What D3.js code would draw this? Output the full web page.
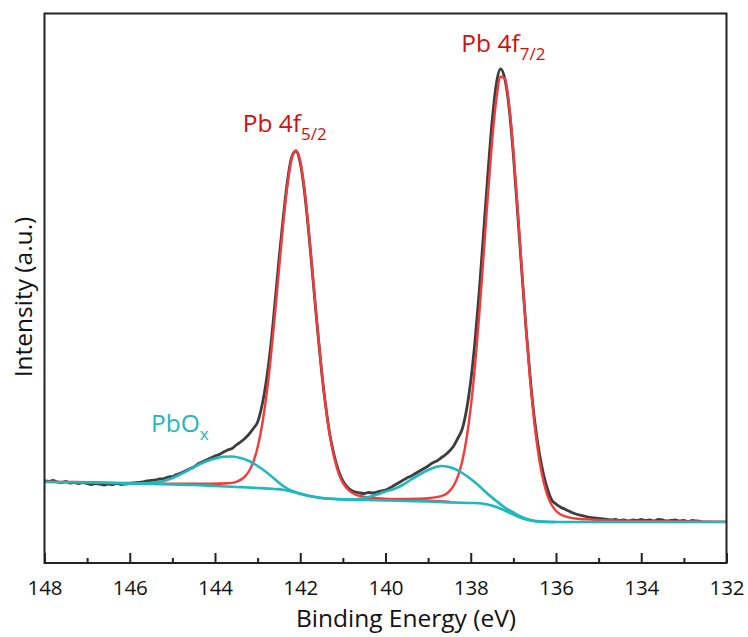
<!DOCTYPE html>
<html><head><meta charset="utf-8">
<script src="https://cdn.jsdelivr.net/npm/d3@7"></script>
<style>body{margin:0;background:#fff}svg{display:block}text{font-family:"Open Sans",sans-serif}</style>
</head><body><svg id="c" width="748" height="637"></svg>
<script>
// ---------- data (binding energy in eV, intensity in a.u.) ----------
const majorTicks = [148,146,144,142,140,138,136,134,132];
const minorTicks = [147,145,143,141,139,137,135,133];

const rawData = [
[148.0,82],[147.9,81.5],[147.8,82.5],[147.7,81],[147.6,80.5],[147.5,81.5],[147.4,80],[147.3,80.5],[147.2,79.5],[147.1,80.5],
[147.0,79.5],[146.9,78.5],[146.8,79.5],[146.7,79],[146.6,78],[146.5,79],[146.4,78.5],[146.3,79.5],[146.2,78.5],[146.1,79],
[146.0,79.5],[145.9,80],[145.8,80.5],[145.7,81],[145.6,82],[145.5,82.5],[145.4,83],[145.3,84],[145.2,84.5],[145.1,86],
[145.0,86.5],[144.9,88.5],[144.8,90],[144.7,92],[144.6,94],[144.5,96],[144.4,99],[144.3,101],[144.2,103],[144.1,105],
[144.0,107],[143.9,108.5],[143.8,111],[143.7,113],[143.6,114.5],[143.5,118],[143.4,121],[143.3,124.5],[143.2,129],[143.1,134.5],
[143.0,141],[142.9,157],[142.8,181],[142.7,214],[142.6,257],[142.5,303],[142.4,345],[142.3,382],[142.2,406],[142.1,412],
[142.0,400],[141.9,371],[141.8,330],[141.7,283],[141.6,236],[141.5,192],[141.4,156],[141.3,127],[141.2,107],[141.1,92],
[141.0,82],[140.9,76],[140.8,72.5],[140.7,71],[140.6,70],[140.5,69.5],[140.4,70.5],[140.3,70],[140.2,71],[140.1,72],
[140.0,73],[139.9,75],[139.8,77.5],[139.7,80],[139.6,82.5],[139.5,85],[139.4,87],[139.3,89.5],[139.2,92],[139.1,94.5],
[139.0,97],[138.9,100],[138.8,102],[138.7,105],[138.6,108],[138.5,112],[138.4,117],[138.3,125],[138.2,134],[138.1,153],
[138.0,182],[137.9,222],[137.8,272],[137.7,330],[137.6,388],[137.5,441],[137.4,479],[137.3,494],[137.2,484],[137.1,455],
[137.0,408],[136.9,350],[136.8,290],[136.7,233],[136.6,183],[136.5,142],[136.4,112],[136.3,90],[136.2,74],[136.1,63],
[136.0,59],[135.9,56],[135.8,54],[135.7,52],[135.6,50],[135.5,48.5],[135.4,47.5],[135.3,46.5],[135.2,45.5],[135.1,45],
[135.0,44.5],[134.9,44],[134.8,43.5],[134.7,43],[134.6,43.5],[134.5,42.5],[134.4,43],[134.3,42],[134.2,43],[134.1,42.5],
[134.0,43.5],[133.9,42.5],[133.8,43],[133.7,42],[133.6,43.5],[133.5,43],[133.4,42],[133.3,42.5],[133.2,43],[133.1,42],
[133.0,42.5],[132.9,41.5],[132.8,42.5],[132.7,42],[132.6,41.5]
];

const fitPb52 = [
[148,81.3],[147.5,81],[147,80.8],[146.5,80.3],[146,80],[145.5,79.6],[145,79.3],[144.6,79.3],[144.1,79.2],[143.7,79.7],
[143.5,81.2],[143.3,86.4],[143.2,92],[143.1,101.2],[143.0,115.8],[142.9,136.8],[142.8,165.3],[142.7,202],[142.6,245.3],
[142.5,292.7],[142.4,338.9],[142.3,378],[142.2,404.4],[142.1,412.5],[142.0,401.9],[141.9,373.5],[141.8,332.4],[141.7,285.1],
[141.6,236.8],[141.5,192.8],[141.4,155.3],[141.3,126.2],[141.2,104.8],[141.1,89.7],[141.0,80.1],[140.9,74.2],[140.7,68.4],
[140.5,66.3],[140.1,64.6],[139.6,63.4],[139.0,62.3],[138.5,61.3]
];

const fitPb72 = [
[140.5,64.0],[140.0,63.9],[139.5,64.1],[139.0,64.8],[138.8,65.8],[138.7,66.9],[138.6,68.5],[138.5,71.8],[138.4,77.5],[138.3,86.9],
[138.2,101.8],[138.1,124.2],[138.0,155.7],[137.9,197.4],[137.8,248.7],[137.7,306.7],[137.6,366.5],[137.5,421.2],[137.4,463.6],
[137.3,486.3],[137.2,484.5],[137.1,458.1],[137.0,412.5],[136.9,354.5],[136.8,292.5],[136.7,232.5],[136.6,180.1],[136.5,137.5],
[136.4,105.4],[136.3,82.7],[136.2,67.5],[136.1,58],[136.0,52.2],[135.9,48.7],[135.8,46.9],[135.7,45.7],[135.5,44.3],
[135.25,43.6],[135.0,43],[134.5,42.4],[134.0,42.1],[133.0,41.6],[132.0,41.4]
];

const background = [
[148,81],[147.5,80.8],[147,80.5],[146.5,80],[146,79.5],[145.5,79],[145,78.5],[144.5,78],[144,77],[143.5,76],
[143,75],[142.6,74],[142.4,73.3],[142.2,71.5],[142.0,69],[141.8,67],[141.6,65.5],[141.4,64.5],[141.2,64],[141,63.5],
[140.5,63],[140,62.5],[139.5,62],[139,61.5],[138.5,60.6],[138,60],[137.8,59.7],[137.6,58.5],[137.4,56],[137.25,53.5],
[137.1,50.5],[136.9,46.5],[136.7,43.5],[136.5,41.8],[136.3,41.2],[136,41],[135,41],[134,41],[133,41],[132,41]
];

const fitPbOx1 = [
[146.2,79.3],[145.8,79.5],[145.5,80.2],[145.2,82],[145.0,85],[144.8,89],[144.6,93.5],[144.4,98],[144.2,101.8],[144.0,104.5],
[143.8,106.2],[143.6,106.5],[143.4,105],[143.2,102],[143.0,97],[142.8,91],[142.6,84],[142.4,77],[142.2,72.2],[142.0,69.5],
[141.8,67.3],[141.6,65.7],[141.4,64.6],[141.2,64.1],[141.0,63.6]
];

const fitPbOx2 = [
[141.0,63.6],[140.8,63.5],[140.6,64.2],[140.4,66],[140.2,68.5],[140.0,71.5],[139.8,74],[139.6,78],[139.4,83.5],[139.2,88.5],
[139.0,93],[138.8,96.2],[138.7,97],[138.6,96.8],[138.4,94.5],[138.2,90],[138.0,84],[137.8,77],[137.6,69],[137.4,62],
[137.2,55.5],[137.0,50.5],[136.8,46],[136.6,43],[136.4,41.6],[136.2,41.1],[136.0,41]
];

const labels = [
  {main:"Pb 4f", sub:"5/2", e:143.35, v:431, color:"#d10f0f"},
  {main:"Pb 4f", sub:"7/2", e:138.22, v:511, color:"#d10f0f"},
  {main:"PbO",  sub:"x",   e:145.5, v:131, color:"#1fb5ba"}
];

// ---------- layout ----------
const svg = d3.select("#c");
const L = 44.5, R = 726.5, T = 13.5, B = 563;
const x = d3.scaleLinear().domain([148,132]).range([L,R]);
const y = d3.scaleLinear().domain([0,550]).range([B,B-550]);

const line = d3.line().x(d=>x(d[0])).y(d=>y(d[1])).curve(d3.curveMonotoneX);

svg.append("path").datum(rawData).attr("d",line)
  .attr("fill","none").attr("stroke","#3d3d3d").attr("stroke-width",2.8).attr("stroke-linejoin","round");
[fitPb52, fitPb72].forEach(s=>{
  svg.append("path").datum(s).attr("d",line)
    .attr("fill","none").attr("stroke","#f43b3b").attr("stroke-width",2.4).attr("stroke-linejoin","round");
});
[background, fitPbOx1, fitPbOx2].forEach(s=>{
  svg.append("path").datum(s).attr("d",line)
    .attr("fill","none").attr("stroke","#1fb9bd").attr("stroke-width",2.6).attr("stroke-linejoin","round");
});

// frame
svg.append("rect").attr("x",L).attr("y",T).attr("width",R-L).attr("height",B-T)
  .attr("fill","none").attr("stroke","#222").attr("stroke-width",2);

// bottom axis with inward ticks
const ax = svg.append("g").attr("transform",`translate(0,${B})`)
  .call(d3.axisBottom(x).tickValues(majorTicks).tickSize(-10).tickPadding(17).tickFormat(d3.format("d")));
ax.select(".domain").remove();
ax.selectAll(".tick line").attr("stroke","#222").attr("stroke-width",2);
ax.selectAll("text").attr("font-size",20.5).attr("fill","#111").attr("font-family","'Open Sans',sans-serif");
const axm = svg.append("g").attr("transform",`translate(0,${B})`)
  .call(d3.axisBottom(x).tickValues(minorTicks).tickSize(-5).tickFormat(""));
axm.select(".domain").remove();
axm.selectAll(".tick line").attr("stroke","#222").attr("stroke-width",2);

// axis titles
svg.append("text").attr("x",406).attr("y",627).attr("text-anchor","middle")
  .attr("font-size",24.5).attr("fill","#111").text("Binding Energy (eV)");
svg.append("text").attr("transform","translate(32,297) rotate(-90)").attr("text-anchor","middle")
  .attr("font-size",24.5).attr("fill","#111").text("Intensity (a.u.)");

// annotations
labels.forEach(l=>{
  const t = svg.append("text").attr("x",x(l.e)).attr("y",y(l.v)).attr("fill",l.color).attr("font-size",24.5);
  t.append("tspan").text(l.main);
  t.append("tspan").attr("dy",8).attr("font-size",17).text(l.sub);
});
</script></body></html>
